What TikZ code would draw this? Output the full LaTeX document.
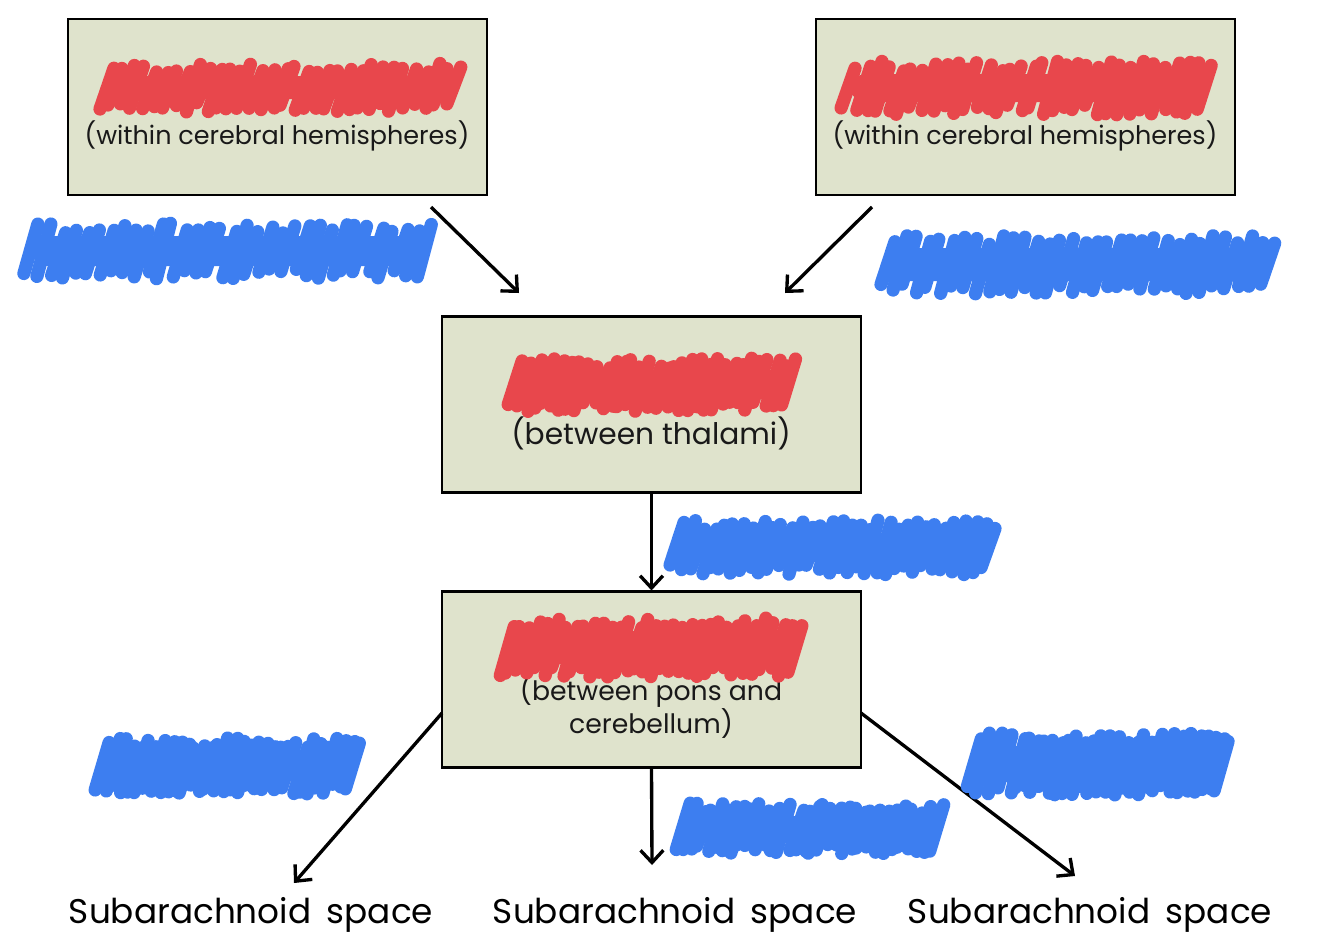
\documentclass[tikz,border=0pt]{standalone}
\usepackage{fontspec}
\setmainfont{Poppins}
\usetikzlibrary{arrows.meta}
\definecolor{boxfill}{HTML}{DFE3CC}
\definecolor{scred}{HTML}{E8474C}
\definecolor{scblue}{HTML}{3D7EF0}
\newcommand\scrib[6]{%
  \pgfmathsetseed{#6}%
  \fill[#1,rounded corners=10pt] (#2+14,#4+16) rectangle (#3-14,#5-16);
  \foreach \k in {0,...,32}{%
    \pgfmathsetmacro\xa{#2+12+\k*(#3-#2-30)/32+3*rand}%
    \pgfmathsetmacro\ta{#4+8+5*rand}%
    \pgfmathsetmacro\ba{#5-8+5*rand}%
    \draw[#1,line width=7.5pt,line cap=round] (\xa+10,\ta) -- (\xa-4,\ba);
  }%
}
\tikzset{
  box/.style={draw=black,line width=1.2pt,fill=boxfill,minimum width=8.38cm,minimum height=3.52cm,inner sep=0pt},
  arr/.style={line width=1.9pt,-{Straight Barb[length=7pt,width=13pt,line width=1.9pt]}},
  lbl/.style={font=\fontsize{14.5}{17}\selectfont,align=center,inner sep=0pt,text=black!90},
  bot/.style={font=\fontsize{19.5}{22}\selectfont,inner sep=0pt,text=black}
}
\begin{document}
\begin{tikzpicture}[x=0.02cm,y=-0.02cm]
\useasboundingbox[fill=white] (0,0) rectangle (1334,941);
% boxes
\node[box] (A) at (277.5,107) {};
\node[box] (B) at (1025.5,107) {};
\node[box] (C) at (651.5,404.5) {};
\node[box] (D) at (651.5,679.5) {};
% texts in boxes
\node[lbl] (tA) at (277,136) {(within cerebral hemispheres)};
\node[lbl] (tB) at (1025,136) {(within cerebral hemispheres)};
\node[lbl,font=\fontsize{16.9}{19}\selectfont] (tC) at (651,433) {(between thalami)};
\node[lbl,font=\fontsize{15.2}{18}\selectfont] (tD) at (651,707) {(between pons and\\cerebellum)};
% bottom texts
\node[bot] (S1) at (251,915) {Subarachnoid\hspace{0.45em}space};
\node[bot] (S2) at (675,915) {Subarachnoid\hspace{0.45em}space};
\node[bot] (S3) at (1090,915) {Subarachnoid\hspace{0.45em}space};
% arrow end points
\coordinate (a1) at (431,207);
\coordinate (a2) at (519,293);
\coordinate (b1) at (872,207);
\coordinate (b2) at (785,293);
\coordinate (dl) at (442,713);
\coordinate (dr) at (861,713);
\coordinate (el) at (294,883);
\coordinate (em) at (652,865);
\coordinate (er) at (1075,876);
% arrows
\draw[arr] (a1) -- (a2);
\draw[arr] (b1) -- (b2);
\draw[arr] (C.south) -- (D.north);
\draw[arr] (dl) -- (el);
\draw[arr] (D.south) -- (em);
\draw[arr] (dr) -- (er);
% red scribbles
\scrib{scred}{90}{467}{60}{115}{11}
\scrib{scred}{835}{1218}{58}{118}{12}
\scrib{scred}{500}{803}{355}{415}{13}
\scrib{scred}{490}{810}{615}{680}{14}
% blue scribbles
\scrib{scblue}{17}{438}{220}{282}{21}
\scrib{scblue}{872}{1282}{232}{297}{22}
\scrib{scblue}{665}{1003}{517}{578}{23}
\scrib{scblue}{88}{368}{735}{797}{24}
\scrib{scblue}{667}{953}{800}{857}{25}
\scrib{scblue}{962}{1238}{730}{798}{26}
\end{tikzpicture}
\end{document}
